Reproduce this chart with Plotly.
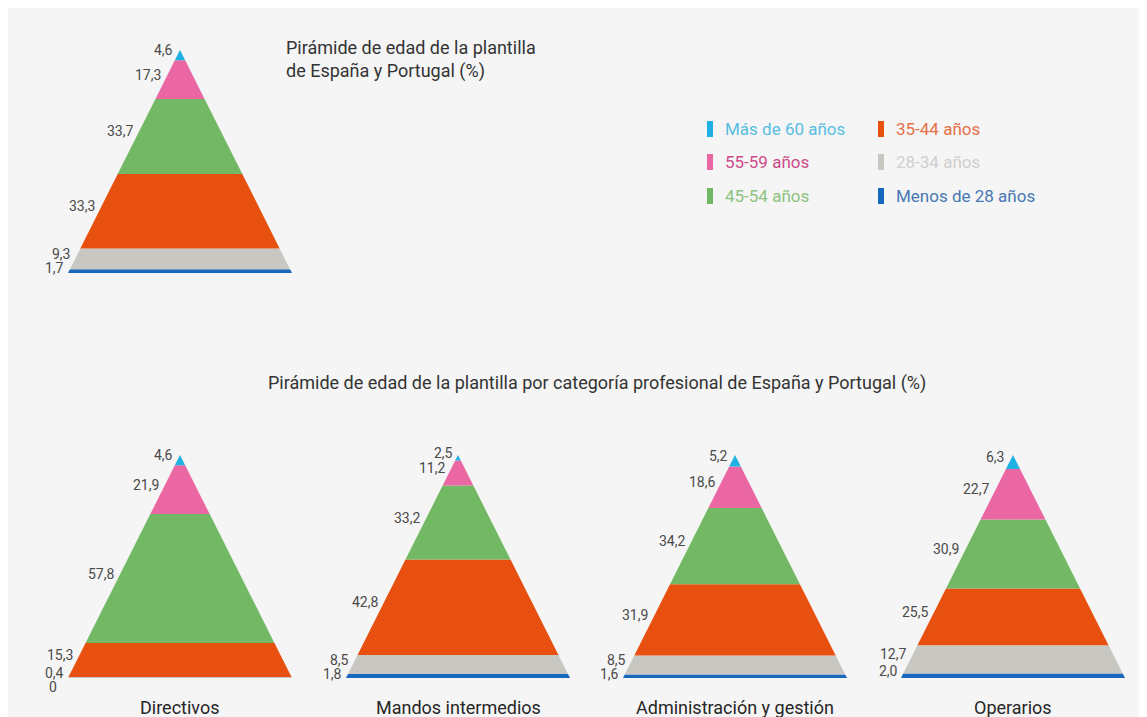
import plotly.graph_objects as go

# browser body margin (8px) is compensated by shifting everything
OFF = 8
W, H = 1147 - OFF, 717 - OFF

# ---------------- data ----------------
age_groups = ["Más de 60 años", "55-59 años", "45-54 años", "35-44 años", "28-34 años", "Menos de 28 años"]
fill_colors = ["#1fb1e3", "#eb67a4", "#72b865", "#e8500f", "#c9c7c2", "#1767bd"]
legend_text_colors = ["#58bde2", "#cc4a88", "#8dc27f", "#e66f46", "#cfcfcf", "#4677b3"]

total_values = [4.6, 17.3, 33.7, 33.3, 9.3, 1.7]
categories = ["Directivos", "Mandos intermedios", "Administración y gestión", "Operarios"]
directivos = [4.6, 21.9, 57.8, 15.3, 0.4, 0]
mandos = [2.5, 11.2, 33.2, 42.8, 8.5, 1.8]
administracion = [5.2, 18.6, 34.2, 31.9, 8.5, 1.6]
operarios = [6.3, 22.7, 30.9, 25.5, 12.7, 2.0]

title_top = "Pirámide de edad de la plantilla<br>de España y Portugal (%)"
title_bottom = "Pirámide de edad de la plantilla por categoría profesional de España y Portugal (%)"

# pyramid boxes in page pixels: (left, right, apex_y, base_y)
boxes = [
    (68, 292, 50, 273),
    (68, 292, 455, 678),
    (346, 570, 455, 678),
    (623, 847, 455, 678),
    (901, 1125, 455, 678),
]
series = [total_values, directivos, mandos, administracion, operarios]

FONT = "Roboto, Arial, sans-serif"


def px(x):
    return (x - OFF) / W


def py(y):
    return 1 - (y - OFF) / H


def fmt(v):
    if v == 0:
        return "0"
    return f"{v:.1f}".replace(".", ",")


fig = go.Figure()
layout_axes = {}
annotations = []

for i, (vals, box) in enumerate(zip(series, boxes)):
    left, right, apex, base = box
    idx = "" if i == 0 else str(i + 1)
    xa, ya = "x" + idx, "y" + idx
    T = sum(vals)
    layout_axes["xaxis" + idx] = dict(domain=[px(left), px(right)], range=[-1, 1], visible=False,
                                      anchor=ya, fixedrange=True)
    layout_axes["yaxis" + idx] = dict(domain=[py(base), py(apex)], range=[0, T], visible=False,
                                      anchor=xa, fixedrange=True)

    def hw(h):
        return (T - h) / T

    bottom = 0.0
    segs = []
    for name, v, col in reversed(list(zip(age_groups, vals, fill_colors))):
        top = bottom + v
        segs.append((name, v, col, bottom, top))
        bottom = top

    for name, v, col, b, t in segs:
        if v <= 0:
            continue
        xs = [-hw(b), hw(b), hw(t), -hw(t), -hw(b)]
        ys = [b, b, t, t, b]
        fig.add_trace(go.Scatter(x=xs, y=ys, xaxis=xa, yaxis=ya, mode="lines", fill="toself",
                                 fillcolor=col, line=dict(width=0, color=col), name=name,
                                 showlegend=False, hoverinfo="text", text=f"{name}: {fmt(v)}%"))

    # value labels (top to bottom, avoiding overlap), placed in page pixels
    ppu = (base - apex) / T
    half = (right - left) / 2
    cx = (left + right) / 2
    gap = 14 / ppu
    prev = None
    for name, v, col, b, t in reversed(segs):
        y = (b + t) / 2
        if prev is not None and y > prev - gap:
            y = prev - gap
        prev = y
        ypx = base - y * ppu - 5
        xpx = cx - hw(y) * half - 2
        annotations.append(dict(x=px(xpx), y=py(ypx), xref="paper", yref="paper", text=fmt(v),
                                showarrow=False, xanchor="right", yanchor="middle",
                                font=dict(family=FONT, size=14, color="#4a4a4a")))

    if i > 0:
        annotations.append(dict(x=px(cx), y=py(707), xref="paper", yref="paper",
                                text=categories[i - 1], showarrow=False, xanchor="center",
                                yanchor="middle", font=dict(family=FONT, size=18, color="#262626")))

# titles
annotations.append(dict(x=px(284), y=py(35), xref="paper", yref="paper", text=title_top,
                        showarrow=False, xanchor="left", yanchor="top", align="left",
                        font=dict(family=FONT, size=18, color="#333333")))
annotations.append(dict(x=px(597), y=py(383), xref="paper", yref="paper", text=title_bottom,
                        showarrow=False, xanchor="center", yanchor="middle",
                        font=dict(family=FONT, size=18, color="#333333")))

# background panel and legend
shapes = [dict(type="rect", xref="paper", yref="paper", x0=0, x1=1, y0=0, y1=1,
               fillcolor="#f5f5f5", line=dict(width=0), layer="below")]
leg_cols = [707, 878]
leg_rows = [129, 162, 196]
for k, (name, col, tcol) in enumerate(zip(age_groups, fill_colors, legend_text_colors)):
    cxp = leg_cols[k // 3]
    cyp = leg_rows[k % 3]
    shapes.append(dict(type="rect", xref="paper", yref="paper", x0=px(cxp), x1=px(cxp + 6),
                       y0=py(cyp + 8), y1=py(cyp - 8), fillcolor=col, line=dict(width=0)))
    annotations.append(dict(x=px(cxp + 16), y=py(cyp), xref="paper", yref="paper", text=name,
                            showarrow=False, xanchor="left", yanchor="middle",
                            font=dict(family=FONT, size=17, color=tcol)))

fig.update_layout(width=W, height=H, margin=dict(l=0, r=0, t=0, b=0),
                  paper_bgcolor="#f5f5f5", plot_bgcolor="rgba(0,0,0,0)",
                  annotations=annotations, shapes=shapes, showlegend=False, **layout_axes)

fig.write_html("out.html", config={"displayModeBar": False})
